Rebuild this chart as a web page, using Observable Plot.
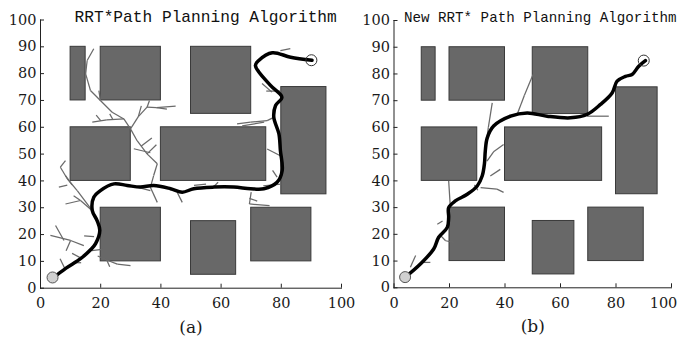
<!DOCTYPE html>
<html><head><meta charset="utf-8">
<script src="https://cdn.jsdelivr.net/npm/d3@7"></script>
<script src="https://cdn.jsdelivr.net/npm/@observablehq/plot@0.6"></script>
<style>
html,body{margin:0;padding:0;background:#fff;width:679px;height:337px;overflow:hidden;}
#wrap{position:relative;width:679px;height:337px;}
#a,#b{position:absolute;top:0;}
#a{left:0;} #b{left:340px;}
</style></head><body><div id="wrap"><div id="a"></div><div id="b"></div></div>
<script>
const xTicks = [0, 20, 40, 60, 80, 100];
const yTicks = [0, 10, 20, 30, 40, 50, 60, 70, 80, 90, 100];
const titles = ["RRT*Path Planning Algorithm", "New RRT* Path Planning Algorithm"];
const captions = ["(a)", "(b)"];

// obstacles: [x1, x2, y1, y2]
const obstacles = [
  [10, 15, 70, 90], [20, 40, 70, 90], [50, 70, 65, 90], [80, 95, 35, 75],
  [10, 30, 40, 60], [40, 75, 40, 60],
  [20, 40, 10, 30], [50, 65, 5, 25], [70, 90, 10, 30]
];
const startPt = [4, 4];
const goalPt = [90, 85];

const pathA = [
  [3.9, 3.6], [8.5, 7.5], [13.3, 11], [16.8, 14.5], [18.3, 16.6], [19.7, 21.5], [18.8, 25.2],
  [17.2, 29], [17.7, 33.9], [19.9, 36.4], [24.4, 38.9], [28.8, 38.3], [33.2, 37.7],
  [37.6, 38.3], [43.2, 37.1], [47.1, 35.8], [50.9, 37.1], [57.6, 37.7], [64.2, 37.7],
  [69.8, 37.1], [74.2, 37.1], [78.6, 39.5], [80.3, 43.9], [79.7, 51.3], [79.2, 57.6],
  [77.5, 63.8], [78.1, 68.1], [80.2, 71.2], [76.4, 75.6], [71.4, 83], [72.5, 84.9],
  [77, 87.8], [83.1, 86.1], [90.2, 85]
];
const pathB = [
  [4.1, 4], [9.5, 8.9], [14.3, 14.5], [16.1, 18.9], [19.2, 22.6], [19.7, 26.3], [19.7, 30],
  [22.1, 32.5], [26.4, 35], [30, 38.1], [31.8, 41.9], [32.6, 46.5], [32.9, 51.2], [33.6, 56.1],
  [35.9, 60.5], [42, 64.2], [48, 65.4], [55.2, 64.2], [63.6, 63.6], [69.6, 64.9],
  [74.4, 68.6], [78.6, 72.9], [80.4, 77.3], [83.4, 79.1], [85.8, 79.8], [88.2, 82.9], [90.6, 85]
];

// tree branches (polylines)
const branchesA = [
  [[17.7, 89.3], [15.5, 84.9], [15, 79.9], [16.6, 73.7], [19.9, 70], [23.8, 65.6], [27.7, 63.1],
   [29.9, 59.4], [32.1, 55], [35.4, 50.1], [38.8, 46.4], [37.6, 42], [36.5, 37.6]],
  [[19.9, 70], [19.4, 73.7]],
  [[17.2, 61.9], [22, 62.8], [27.7, 63.1]], [[20, 62.5], [18.5, 64.5]], [[24, 63], [23, 65]],
  [[29.9, 59.4], [32.5, 64], [35.4, 67.5], [38.5, 67.3], [44.9, 67.9]],
  [[32.5, 64], [33.5, 68]], [[35.4, 67.5], [36.2, 70]], [[38.5, 67.3], [42, 66.8]],
  [[33.5, 53], [37, 56]], [[35.4, 50.1], [38.5, 53.5]], [[31, 52], [36.5, 50.5]],
  [[8, 7.5], [6.5, 11]], [[10.5, 9.5], [13.5, 9.5]], [[13, 11.5], [10.5, 13]],
  [[14.4, 15.9], [10, 17.8], [3.3, 19.7]], [[5, 23.4], [7.8, 17.8]], [[10, 17.8], [8.5, 14]],
  [[19, 12], [22, 10.5], [25.5, 9], [29.9, 8.4]], [[22, 10.5], [23, 8]],
  [[14.5, 19.5], [17.8, 19.2]], [[17, 14], [20.5, 14.5]],
  [[17.2, 28.9], [13.3, 32.7], [8.3, 31.4]], [[13.3, 32.7], [11, 34.5]],
  [[17.2, 28.9], [12.2, 36.4], [8.9, 40.8], [6.6, 45.1], [8.3, 47.6]],
  [[8.9, 38.4], [6.1, 37.7]], [[10.5, 38.5], [8.3, 42]],
  [[36.5, 37.6], [38.8, 32]], [[32.1, 37.7], [36.5, 36.4]],
  [[45.4, 35.8], [47.1, 32]], [[51, 38.3], [55, 38.8]], [[57, 37.2], [59, 39.5]],
  [[70, 35.8], [69.4, 31.4], [76.1, 30.8]], [[69.4, 33.5], [72, 32.5]],
  [[78.6, 41.4], [77.1, 43.9]], [[74, 38.2], [80, 38.8]],
  [[73.6, 76.3], [76.9, 73.1]], [[75, 73.5], [80, 73.5]],
  [[65.3, 61.3], [69.8, 61.9], [75.3, 62.5], [77.5, 63.7]], [[67, 60.5], [74.3, 61.9]],
  [[75.3, 51.9], [79.7, 49.4]],
  [[79.7, 88.6], [83, 89.3]], [[72.5, 81.5], [73.2, 79.2]]
];
const branchesB = [
  [[33, 52.4], [34, 60], [35.4, 69.2]],
  [[33.5, 47.4], [36, 51], [39.5, 53.6]],
  [[34.7, 41.8], [38.3, 44.3]],
  [[44.4, 64.9], [47, 72], [50.1, 79.8]],
  [[69.6, 64.2], [77.4, 64.2]],
  [[31.2, 37.5], [37.1, 36.9], [39.5, 35.7]], [[29, 38.5], [30.2, 36.5]],
  [[19.7, 40], [20.3, 30.1]],
  [[16.3, 20.1], [18.6, 17.6], [21.5, 17]],
  [[5.9, 7.7], [7.8, 12.1]],
  [[10.1, 9.5], [13.1, 9.5]],
  [[17.5, 25], [15.6, 23.8]]
];

const serif = "'DejaVu Serif', 'Liberation Serif', serif";
const mono = "'Liberation Mono', monospace";
const tickFont = 14.5;

function panel({width, marginLeft, marginRight, marginTop, marginBottom, path, branches, title, titleDx, titleDy, titleSize, caption, lastTickDx}) {
  const segs = branches.flatMap(pl => pl.slice(1).map((p, i) => ({x1: pl[i][0], y1: pl[i][1], x2: p[0], y2: p[1]})));
  const mainX = lastTickDx ? xTicks.slice(0, -1) : xTicks;
  const marks = [
    Plot.rect(obstacles, {x1: d => d[0], x2: d => d[1], y1: d => d[2], y2: d => d[3], fill: "#686868", stroke: "#3a3a3a", strokeWidth: 1}),
    Plot.link(segs, {x1: "x1", y1: "y1", x2: "x2", y2: "y2", stroke: "#6a6a6a", strokeWidth: 1.25}),
    Plot.line(path, {x: d => d[0], y: d => d[1], curve: "catmull-rom", stroke: "#000", strokeWidth: 3.5, strokeLinejoin: "round"}),
    Plot.dot([startPt], {x: d => d[0], y: d => d[1], r: 5.5, fill: "#d0d0d0", stroke: "#555", strokeWidth: 1}),
    Plot.dot([goalPt], {x: d => d[0], y: d => d[1], r: 5.5, fill: "none", stroke: "#333", strokeWidth: 1}),
    Plot.axisX({ticks: mainX, tickSize: -4, tickPadding: 14, tickFormat: d => d, label: null, fontFamily: serif, fontSize: tickFont, fill: "#1a1a1a", stroke: "#222"}),
    Plot.axisY({ticks: yTicks, tickSize: -4, tickPadding: 8, tickFormat: d => d, label: null, fontFamily: serif, fontSize: tickFont, fill: "#1a1a1a", stroke: "#222"}),
    Plot.frame({anchor: "left", stroke: "#222"}),
    Plot.frame({anchor: "bottom", stroke: "#222"}),
    Plot.text([title], {frameAnchor: "top-left", dx: titleDx, dy: titleDy, text: d => d, fontFamily: mono, fontSize: titleSize, lineAnchor: "bottom", textAnchor: "start", fill: "#111"}),
    Plot.text([caption], {frameAnchor: "bottom", dy: 39, text: d => d, lineAnchor: "middle", fontFamily: serif, fontSize: 17, fill: "#1a1a1a"})
  ];
  if (lastTickDx) {
    marks.push(Plot.axisX({ticks: xTicks.slice(-1), tickSize: -4, tickFormat: () => "", label: null, stroke: "#222"}));
    marks.push(Plot.axisX({ticks: xTicks.slice(-1), tickSize: 0, tickPadding: 10, tickFormat: d => d, label: null, fontFamily: serif, fontSize: tickFont, fill: "#1a1a1a", dx: lastTickDx}));
  }
  return Plot.plot({
    width, height: 337, marginLeft, marginRight, marginTop, marginBottom,
    style: {background: "transparent", overflow: "visible", fontFamily: serif, fontSize: tickFont + "px", color: "#222"},
    x: {domain: [0, 100]},
    y: {domain: [0, 100]},
    marks
  });
}

document.getElementById("a").append(panel({
  width: 345, marginLeft: 40, marginRight: 4, marginTop: 19.5, marginBottom: 49.3,
  path: pathA, branches: branchesA, title: titles[0], titleDx: 34, titleDy: 2, titleSize: 16.2, caption: captions[0]
}));
document.getElementById("b").append(panel({
  width: 339, marginLeft: 53.5, marginRight: 8, marginTop: 20, marginBottom: 49.7,
  path: pathB, branches: branchesB, title: titles[1], titleDx: 10, titleDy: 1, titleSize: 14.2, caption: captions[1], lastTickDx: -8
}));
</script></body></html>
